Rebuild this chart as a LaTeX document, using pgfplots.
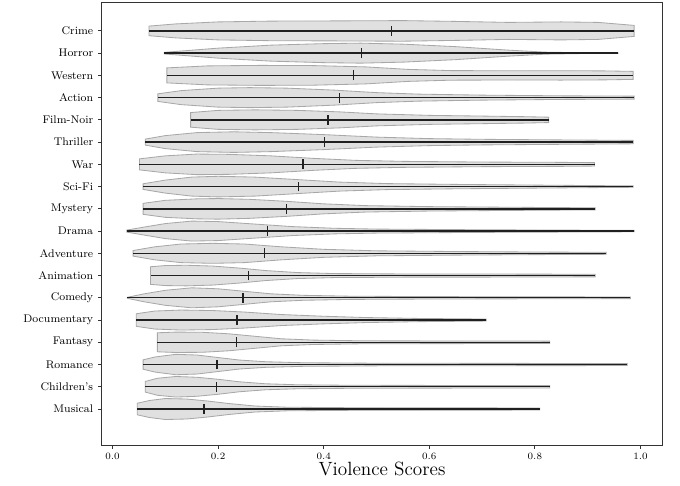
\documentclass[border=0pt]{standalone}
\usepackage{pgfplots}
\usepackage{pgfplotstable}
\pgfplotsset{compat=1.18}
\usepgfplotslibrary{fillbetween}

\definecolor{vfillc}{HTML}{E0E0E0}
\definecolor{vedgec}{HTML}{A8A8A8}
\definecolor{vlinec}{HTML}{202020}

\pgfplotstableread{
x w
0.069 0
0.069 4.8
0.12 7
0.2 9
0.3 9.8
0.42 10
0.55 10.3
0.65 9.5
0.75 8.5
0.85 9
0.92 8.5
0.988 5.5
0.988 0
}\tCrime
\pgfplotstableread{
x w
0.098 0
0.098 0.8
0.2 5
0.3 8
0.4 9.5
0.47 10
0.55 9
0.65 6.5
0.75 3
0.82 1
0.9 0.3
0.958 0.1
0.958 0
}\tHorror
\pgfplotstableread{
x w
0.103 0
0.103 7.5
0.18 9.5
0.28 10
0.38 9.8
0.48 8.5
0.56 6
0.64 4.8
0.75 4.6
0.85 4.7
0.93 4.5
0.986 4
0.986 0
}\tWestern
\pgfplotstableread{
x w
0.086 0
0.086 3.8
0.13 7
0.2 9.5
0.26 10
0.33 9.5
0.42 7.5
0.5 5
0.58 3.5
0.7 2.5
0.85 1.8
0.988 1.5
0.988 0
}\tAction
\pgfplotstableread{
x w
0.148 0
0.148 7.3
0.2 9.5
0.27 10
0.35 9.5
0.43 8
0.5 6
0.6 4.5
0.7 3.8
0.78 3.2
0.826 2.7
0.826 0
}\tFilmNoir
\pgfplotstableread{
x w
0.062 0
0.062 3
0.1 6.5
0.16 9.5
0.23 10.3
0.3 9.5
0.4 7.5
0.5 5
0.6 3.5
0.7 2.8
0.85 2.2
0.986 1.7
0.986 0
}\tThriller
\pgfplotstableread{
x w
0.051 0
0.051 5.5
0.1 8.5
0.16 10.3
0.22 10
0.3 8.5
0.38 6
0.46 4
0.55 3
0.7 2.3
0.85 2
0.913 1.7
0.913 0
}\tWar
\pgfplotstableread{
x w
0.058 0
0.058 2.8
0.1 6.5
0.15 9.5
0.2 10.3
0.27 9.5
0.35 7
0.43 4.5
0.52 3
0.65 2.2
0.8 1.5
0.986 0.7
0.986 0
}\tSciFi
\pgfplotstableread{
x w
0.058 0
0.058 5.5
0.1 8.5
0.16 10
0.2 10.3
0.26 9.5
0.33 7.5
0.4 5
0.48 3.2
0.6 2.2
0.75 1.6
0.914 1
0.914 0
}\tMystery
\pgfplotstableread{
x w
0.027 0
0.027 1
0.06 4
0.1 7.5
0.15 10
0.2 9.5
0.27 7
0.34 4.5
0.42 2.8
0.5 2
0.7 1.3
0.988 0.7
0.988 0
}\tDrama
\pgfplotstableread{
x w
0.039 0
0.039 2.8
0.08 6.5
0.13 9.3
0.19 10
0.25 9.3
0.32 6.5
0.4 4
0.5 2.5
0.65 1.8
0.8 1.3
0.935 1
0.935 0
}\tAdventure
\pgfplotstableread{
x w
0.072 0
0.072 8.8
0.1 10
0.14 10.3
0.19 9.5
0.24 7.5
0.29 5
0.35 3
0.42 2
0.55 1.6
0.75 1.5
0.914 1.3
0.914 0
}\tAnimation
\pgfplotstableread{
x w
0.028 0
0.028 0.5
0.06 4
0.1 7.5
0.15 10
0.2 9
0.25 6.5
0.3 4
0.36 2.5
0.45 1.6
0.6 1.2
0.981 0.8
0.981 0
}\tComedy
\pgfplotstableread{
x w
0.045 0
0.045 6.3
0.08 9
0.13 10
0.19 9.5
0.25 8
0.32 5.5
0.4 3.8
0.48 2.5
0.58 1.6
0.708 1
0.708 0
}\tDocumentary
\pgfplotstableread{
x w
0.085 0
0.085 9.5
0.12 10.2
0.17 10
0.22 8.5
0.27 6
0.32 3.5
0.38 2.2
0.47 1.5
0.65 1.3
0.828 1.2
0.828 0
}\tFantasy
\pgfplotstableread{
x w
0.058 0
0.058 4.7
0.08 7.5
0.12 10.2
0.16 9.5
0.2 7
0.24 4.5
0.29 2.8
0.36 1.8
0.5 1.3
0.975 1
0.975 0
}\tRomance
\pgfplotstableread{
x w
0.062 0
0.062 5.3
0.085 8.5
0.12 10.3
0.16 9.5
0.2 7.5
0.24 5
0.29 3
0.35 2
0.45 1.5
0.65 1.3
0.828 1.2
0.828 0
}\tChildrens
\pgfplotstableread{
x w
0.047 0
0.047 5.8
0.07 8.5
0.1 10.5
0.14 10
0.18 8
0.22 5.5
0.27 3
0.33 1.8
0.45 1.3
0.65 1.2
0.809 1
0.809 0
}\tMusical

% #1 table, #2 y position, #3 min, #4 max, #5 mean
\newcommand{\violin}[5]{%
  \addplot[draw=vedgec, line width=0.6pt, name path=U#2] table[x=x, y expr={#2+\thisrow{w}/22.24}] {#1};
  \addplot[draw=vedgec, line width=0.6pt, name path=L#2] table[x=x, y expr={#2-\thisrow{w}/22.24}] {#1};
  \addplot[fill=vfillc, draw=none] fill between[of=U#2 and L#2];
  \addplot[draw=vlinec, line width=0.95pt] coordinates {(#3,#2) (#4,#2)};
  \addplot[draw=vlinec, line width=0.95pt] coordinates {(#5,#2-0.22) (#5,#2+0.22)};
}

\begin{document}
\begin{tikzpicture}
\begin{axis}[
  set layers,
  scale only axis,
  width=403.9pt, height=319pt,
  xmin=-0.0208, xmax=1.0417,
  ymin=-1.62, ymax=18.30,
  axis line style={draw=black!80, line width=0.7pt},
  tick align=outside,
  xtick pos=bottom, ytick pos=left,
  major tick length=2.5pt,
  tick style={draw=black!80, line width=0.6pt},
  xtick={0,0.2,0.4,0.6,0.8,1.0},
  xticklabel style={/pgf/number format/fixed, /pgf/number format/fixed zerofill, /pgf/number format/precision=1, font=\fontsize{6.7}{8}\selectfont},
  ytick={0,1,...,17},
  yticklabels={Musical,Children's,Romance,Fantasy,Documentary,Comedy,Animation,Adventure,Drama,Mystery,Sci-Fi,War,Thriller,Film-Noir,Action,Western,Horror,Crime},
  yticklabel style={font=\fontsize{8}{9.6}\selectfont},
  xlabel={Violence Scores},
  xlabel style={font=\fontsize{13.8}{16}\selectfont, yshift=5.5pt},
]
\violin{\tCrime}{17}{0.069}{0.988}{0.528}
\violin{\tHorror}{16}{0.098}{0.958}{0.471}
\violin{\tWestern}{15}{0.103}{0.986}{0.457}
\violin{\tAction}{14}{0.086}{0.988}{0.430}
\violin{\tFilmNoir}{13}{0.148}{0.826}{0.408}
\violin{\tThriller}{12}{0.062}{0.986}{0.401}
\violin{\tWar}{11}{0.051}{0.913}{0.361}
\violin{\tSciFi}{10}{0.058}{0.986}{0.352}
\violin{\tMystery}{9}{0.058}{0.914}{0.329}
\violin{\tDrama}{8}{0.027}{0.988}{0.294}
\violin{\tAdventure}{7}{0.039}{0.935}{0.288}
\violin{\tAnimation}{6}{0.072}{0.914}{0.257}
\violin{\tComedy}{5}{0.028}{0.981}{0.247}
\violin{\tDocumentary}{4}{0.045}{0.708}{0.236}
\violin{\tFantasy}{3}{0.085}{0.828}{0.235}
\violin{\tRomance}{2}{0.058}{0.975}{0.198}
\violin{\tChildrens}{1}{0.062}{0.828}{0.197}
\violin{\tMusical}{0}{0.047}{0.809}{0.173}
\end{axis}
\pgfresetboundingbox
\path[use as bounding box] ([shift={(-73.1pt,-28.8pt)}]current axis.south west) rectangle ([shift={(12.6pt,1.44pt)}]current axis.north east);
\end{tikzpicture}
\end{document}
